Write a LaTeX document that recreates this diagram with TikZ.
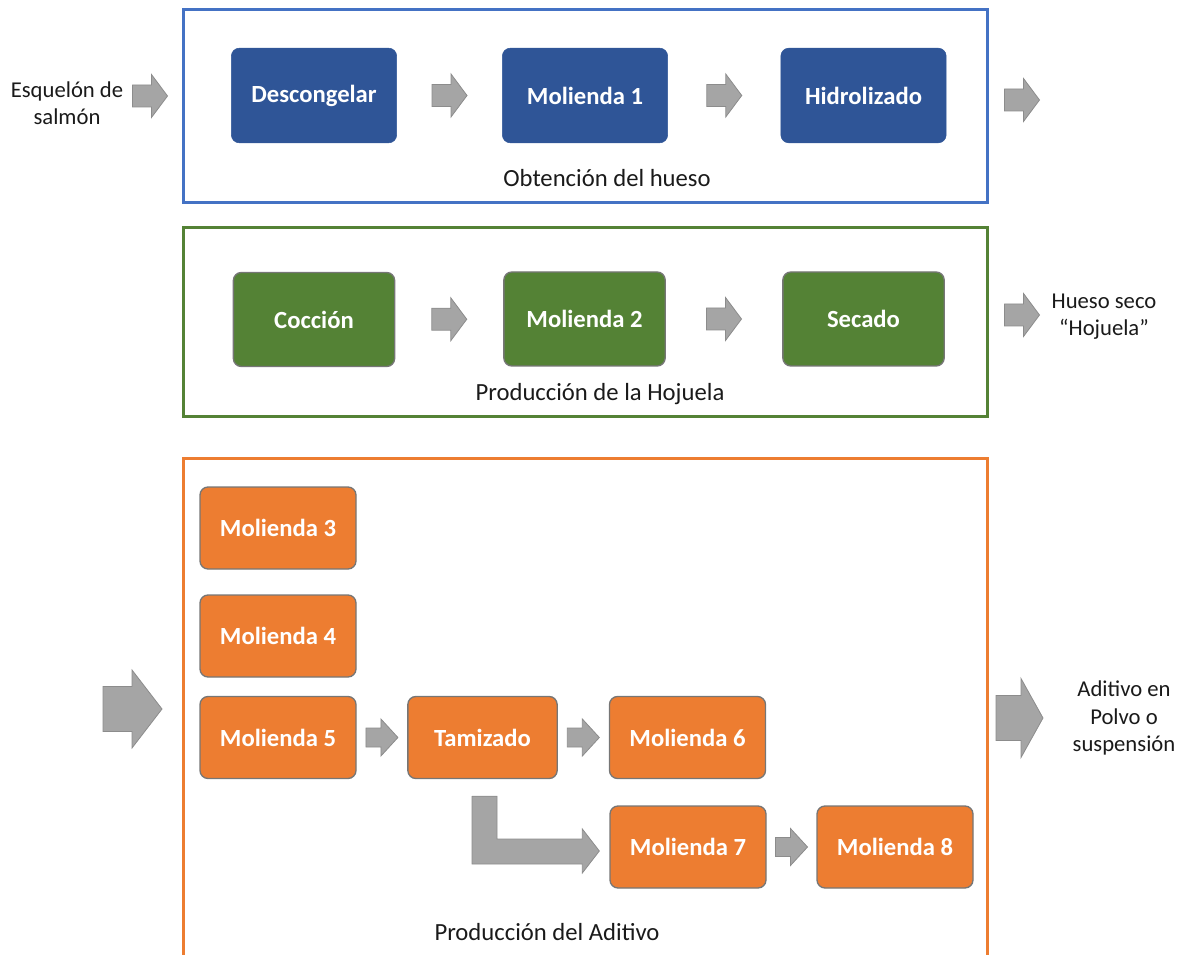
\documentclass[tikz,border=0pt]{standalone}
\usepackage{fontspec}
\setmainfont{Carlito}
\usetikzlibrary{calc}
\definecolor{frameblue}{HTML}{4472C4}
\definecolor{boxblue}{HTML}{2F5597}
\definecolor{boxgreen}{HTML}{548235}
\definecolor{boxorange}{HTML}{ED7D31}
\definecolor{arrowgray}{HTML}{A5A5A5}
\definecolor{arrowedge}{HTML}{8C8C8C}
\definecolor{boxedge}{HTML}{767676}
\definecolor{labeltext}{HTML}{1A1A1A}

% block arrow: centre, length, shaft, head width, head length
\newcommand{\flecha}[5]{%
  \path #1 coordinate (fc);
  \filldraw[blockarrow] ($(fc)+(-#2/2,-#3/2)$) -- ($(fc)+(#2/2-#5,-#3/2)$)
    -- ($(fc)+(#2/2-#5,-#4/2)$) -- ($(fc)+(#2/2,0)$) -- ($(fc)+(#2/2-#5,#4/2)$)
    -- ($(fc)+(#2/2-#5,#3/2)$) -- ($(fc)+(-#2/2,#3/2)$) -- cycle;
}

\begin{document}
\begin{tikzpicture}[
    x=0.75pt, y=-0.75pt,
    blockarrow/.style={fill=arrowgray, draw=arrowedge, line width=0.6pt},
    box/.style={rectangle, rounded corners=6pt, text=white, inner sep=0pt,
        font=\fontsize{18.5}{22}\selectfont\bfseries},
    pasoazul/.style={box, fill=boxblue, draw=boxblue, minimum width=124pt, minimum height=71pt},
    pasoverde/.style={box, fill=boxgreen, draw=boxedge, line width=1pt, minimum width=121pt, minimum height=70.5pt},
    pasonaranja/.style={box, fill=boxorange, draw=boxedge, line width=1pt, minimum width=117pt, minimum height=61.5pt},
    etapa/.style={font=\fontsize{18.5}{22}\selectfont, text=labeltext},
    lado/.style={font=\fontsize{17}{20.5}\selectfont, text=labeltext, align=center},
    marco/.style={line width=2.25pt}
]

\useasboundingbox (0,0) rectangle (1178,955);

% Frames
\draw[marco, frameblue] (183,10) rectangle (987,203);
\draw[marco, boxgreen] (183,228) rectangle (987,417);
\draw[marco, boxorange] (183,960) -- (183,458) -- (987,458) -- (987,960);

% Obtencion del hueso
\node[pasoazul] (desc) at (314,95.5) {Descongelar};
\node[pasoazul] (mol1) at (585,95.5) {Molienda 1};
\node[pasoazul] (hidro) at (863.5,95.5) {Hidrolizado};
\node[etapa] (obt) at (607,178) {Obtención del hueso};

% Produccion de la hojuela
\node[pasoverde] (cocc) at (314,319.5) {Cocción};
\node[pasoverde] (mol2) at (584.5,319) {Molienda 2};
\node[pasoverde] (sec) at (863.5,319) {Secado};
\node[etapa] (prodh) at (600,394) {Producción de la Hojuela};

% Produccion del aditivo
\node[pasonaranja] (mol3) at (278,528) {Molienda 3};
\node[pasonaranja] (mol4) at (278,636) {Molienda 4};
\node[pasonaranja] (mol5) at (278,737.5) {Molienda 5};
\node[pasonaranja, minimum width=112pt] (tam) at (482.5,737.5) {Tamizado};
\node[pasonaranja] (mol6) at (687.5,737.5) {Molienda 6};
\node[pasonaranja] (mol7) at (688,847) {Molienda 7};
\node[pasonaranja] (mol8) at (895,847) {Molienda 8};
\node[etapa] (proda) at (547,932) {Producción del Aditivo};

% Inputs and outputs
\node[lado] (esq) at (67,103) {Esquelón de\\salmón};
\node[lado] (hueso) at (1104,317) {Hueso seco\\“Hojuela”};
\node[lado] (adit) at (1124,718) {Aditivo en\\Polvo o\\suspensión};

\coordinate (inA) at (150,96);
\coordinate (outA) at (1022,100);
\coordinate (outB) at (1022,315);
\coordinate (inC) at (132.5,709);
\coordinate (outC) at (1019.5,718);

% Arrows
\flecha{(inA)}{35}{22}{43}{16}
\flecha{($(desc.east)!0.5!(mol1.west)$)}{35}{22}{43}{16}
\flecha{($(mol1.east)!0.5!(hidro.west)$)}{35}{22}{43}{16}
\flecha{(outA)}{35}{22}{43}{16}

\flecha{($(cocc.east)!0.5!(mol2.west)$)}{35}{22}{43}{16}
\flecha{($(mol2.east)!0.5!(sec.west)$)}{35}{22}{43}{16}
\flecha{(outB)}{35}{22}{43}{16}

\flecha{(inC)}{59}{45}{78}{30}
\flecha{(outC)}{47}{45}{79}{22}
\flecha{($(mol5.east)!0.5!(tam.west)$)}{32}{19}{37}{17}
\flecha{($(tam.east)!0.5!(mol6.west)$)}{32}{19}{37}{17}
\flecha{($(mol7.east)!0.5!(mol8.west)$)}{32}{19}{37}{17}

% Bent arrow from Tamizado to Molienda 7
\coordinate (bend) at ($(tam.south)+(-10.5,17)$);
\coordinate (tip) at ($(mol7.west)+(-10,4)$);
\filldraw[blockarrow] (bend) -- ++(25,0) |- ($(tip)+(-17,-12)$) -- ++(0,-10)
    -- (tip) -- ($(tip)+(-17,22)$) -- ++(0,-9) -| (bend);

\end{tikzpicture}
\end{document}
